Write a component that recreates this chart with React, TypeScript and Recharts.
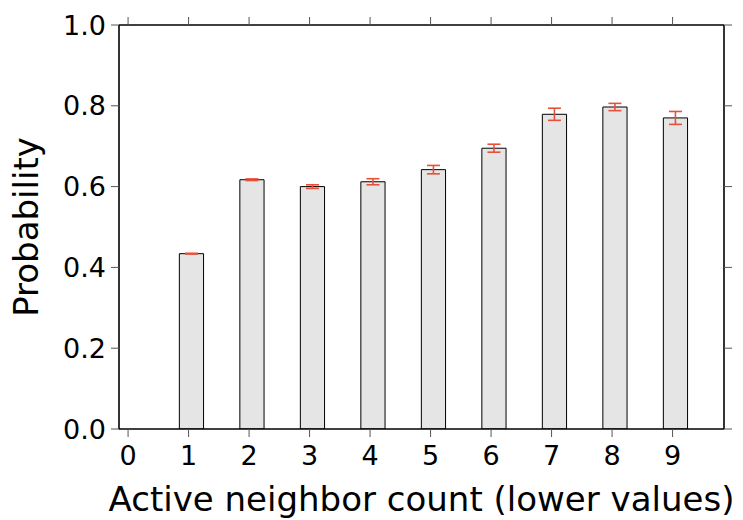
import { ComposedChart, Bar, ErrorBar, XAxis, YAxis, Label } from 'recharts';

const counts = [1, 2, 3, 4, 5, 6, 7, 8, 9];
const probability = [0.434, 0.617, 0.600, 0.612, 0.642, 0.695, 0.779, 0.797, 0.770];
const stdError = [0.001, 0.002, 0.0045, 0.0075, 0.0104, 0.0099, 0.015, 0.009, 0.016];
const xTicks = [0, 1, 2, 3, 4, 5, 6, 7, 8, 9];
const yTicks = [0, 0.2, 0.4, 0.6, 0.8, 1.0];

const xLabel = 'Active neighbor count (lower values)';
const yLabel = 'Probability';

const data = counts.map((c, i) => ({ count: c, p: probability[i], err: stdError[i] }));

const FONT = '"DejaVu Sans", sans-serif';
const tickStyle = { fill: '#000', fontSize: 27, fontFamily: FONT };
const axisLine = { stroke: '#000', strokeWidth: 1.6 };
const tickLine = { stroke: '#555', strokeWidth: 1 };

export default function App() {
  return (
    <div style={{ position: 'absolute', left: 0, top: 0, width: 743, height: 520, background: '#fff' }}>
      <ComposedChart width={743} height={520} data={data} margin={{ top: 0, right: 0, bottom: 0, left: 0 }}>
        {/* hidden axis for the bars: shifted 0.05 so bars sit slightly right of the tick */}
        <XAxis xAxisId="bars" dataKey="count" type="number" domain={[-0.2, 9.8]} allowDataOverflow hide height={0} />
        <XAxis
          xAxisId="bottom"
          dataKey="count"
          type="number"
          domain={[-0.15, 9.85]}
          allowDataOverflow
          ticks={xTicks}
          interval={0}
          height={91}
          tickSize={8}
          tickMargin={9}
          tick={tickStyle}
          axisLine={axisLine}
          tickLine={tickLine}
        >
          <Label
            content={() => (
              <text x={421.5} y={511} textAnchor="middle" fontSize={34} fontFamily={FONT} fill="#000">
                {xLabel}
              </text>
            )}
          />
        </XAxis>
        <XAxis
          xAxisId="top"
          dataKey="count"
          orientation="top"
          type="number"
          domain={[-0.15, 9.85]}
          allowDataOverflow
          ticks={xTicks}
          interval={0}
          height={25}
          tickSize={8}
          tickFormatter={() => ''}
          axisLine={axisLine}
          tickLine={tickLine}
        />
        <YAxis
          yAxisId="left"
          dataKey="p"
          type="number"
          domain={[0, 1]}
          allowDataOverflow
          ticks={yTicks}
          interval={0}
          width={119}
          tickSize={8}
          tickMargin={5}
          tick={tickStyle}
          tickFormatter={(v: number) => v.toFixed(1)}
          axisLine={axisLine}
          tickLine={tickLine}
        >
          <Label
            content={() => (
              <text
                x={38}
                y={227}
                transform="rotate(-90 38 227)"
                textAnchor="middle"
                fontSize={34}
                fontFamily={FONT}
                fill="#000"
              >
                {yLabel}
              </text>
            )}
          />
        </YAxis>
        <YAxis
          yAxisId="right"
          dataKey="p"
          orientation="right"
          type="number"
          domain={[0, 1]}
          allowDataOverflow
          ticks={yTicks}
          interval={0}
          width={19}
          tickSize={8}
          tickFormatter={() => ''}
          axisLine={axisLine}
          tickLine={tickLine}
        />
        <Bar
          xAxisId="bars"
          yAxisId="left"
          dataKey="p"
          barSize={24.2}
          fill="#e5e5e5"
          stroke="#000"
          strokeWidth={1}
          isAnimationActive={false}
        >
          <ErrorBar dataKey="err" direction="y" width={6.5} stroke="#e8503c" strokeWidth={1.6} isAnimationActive={false} />
        </Bar>
      </ComposedChart>
    </div>
  );
}
